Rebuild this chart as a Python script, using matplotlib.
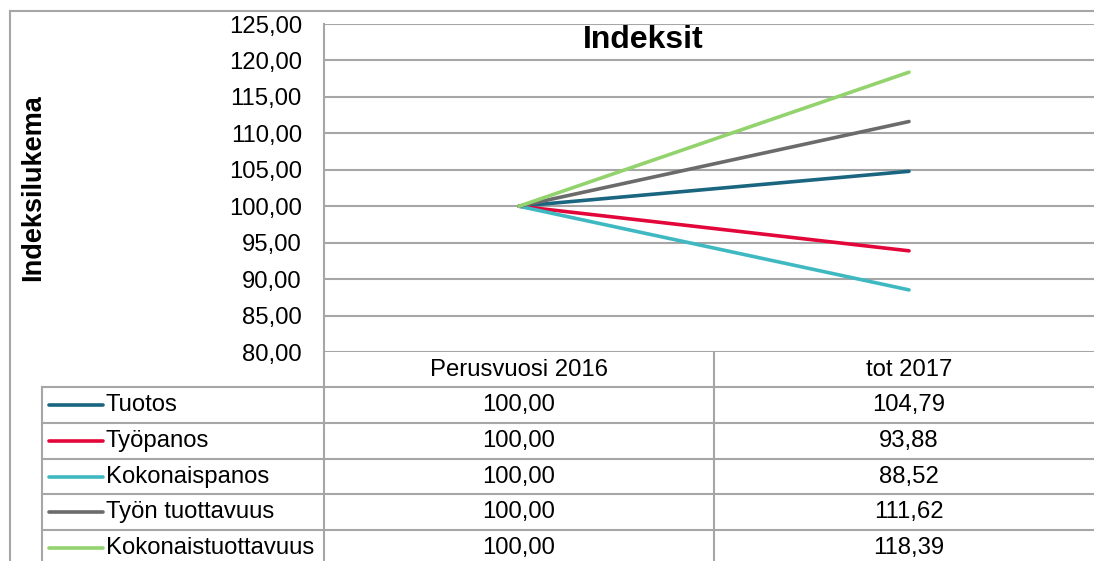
import matplotlib as mpl
from matplotlib import pyplot as plt
from matplotlib.transforms import blended_transform_factory
from matplotlib.lines import Line2D
from matplotlib.ticker import FuncFormatter

# data
categories = ['Perusvuosi 2016', 'tot 2017']
series_names = ['Tuotos', 'Työpanos', 'Kokonaispanos', 'Työn tuottavuus', 'Kokonaistuottavuus']
tuotos = [100.00, 104.79]
tyopanos = [100.00, 93.88]
kokonaispanos = [100.00, 88.52]
tyon_tuottavuus = [100.00, 111.62]
kokonaistuottavuus = [100.00, 118.39]
series_values = [tuotos, tyopanos, kokonaispanos, tyon_tuottavuus, kokonaistuottavuus]
colors = ['#1a6680', '#e3063a', '#3fb9c1', '#6b6b6b', '#92d36e']

plt.rcParams['font.family'] = ['Liberation Sans', 'DejaVu Sans']

W, H = 1094, 561
fig = plt.figure(figsize=(W / 100, H / 100), dpi=100)

def fx(px):
    return px / W

def fy(py):
    return 1 - py / H

grid_col = '#a6a6a6'
fs = 17.2

# plot area in pixels: left 324, right 1104 (beyond image), top 24, bottom 352
ax = fig.add_axes([fx(324), fy(352), fx(1104) - fx(324), fy(24) - fy(352)])
x = list(range(len(categories)))
for name, vals, c in zip(series_names, series_values, colors):
    ax.plot(x, vals, color=c, lw=2.6, solid_capstyle='round', label=name)
ax.set_xlim(-0.5, len(categories) - 0.5)
ax.set_ylim(80, 125)
ax.set_yticks(range(80, 126, 5))
ax.yaxis.set_major_formatter(FuncFormatter(lambda v, p: f'{v:.2f}'.replace('.', ',')))
ax.tick_params(axis='y', length=0, labelsize=fs, pad=16)
ax.set_xticks([])
ax.grid(axis='y', color=grid_col, lw=1.5)
ax.set_axisbelow(True)
for s in ['top', 'right', 'bottom']:
    ax.spines[s].set_visible(False)
ax.spines['left'].set_color(grid_col)
ax.spines['left'].set_linewidth(1.5)

# title and y label
fig.text(fx(643), fy(40), 'Indeksit', fontsize=23, fontweight='bold', ha='center', va='center')
fig.text(fx(33), fy(188), 'Indeksilukema', fontsize=19.5, fontweight='bold', rotation=90,
         ha='center', va='center')

# outer chart border
fig.add_artist(Line2D([fx(10), fx(10)], [fy(11), 0], color=grid_col, lw=1.5, transform=fig.transFigure))
fig.add_artist(Line2D([fx(10), 1], [fy(11), fy(11)], color=grid_col, lw=1.5, transform=fig.transFigure))

# data table below the plot
header_top, header_bot = 352, 387
row_h = 35.8
n = len(series_names)
row_edges = [header_bot + i * row_h for i in range(n + 1)]

def hline(x0, x1, y):
    fig.add_artist(Line2D([fx(x0), fx(x1)], [fy(y), fy(y)], color=grid_col, lw=1.5,
                          transform=fig.transFigure))

def vline(xp, y0, y1):
    fig.add_artist(Line2D([fx(xp), fx(xp)], [fy(y0), fy(y1)], color=grid_col, lw=1.5,
                          transform=fig.transFigure))

for y in row_edges:
    hline(42, 1104, y)
vline(42, header_bot, row_edges[-1])
vline(324, header_top, row_edges[-1])
vline(714, header_top, row_edges[-1])

blend = blended_transform_factory(ax.transData, fig.transFigure)
for i, cat in enumerate(categories):
    fig.text(i, fy((header_top + header_bot) / 2), cat, transform=blend, fontsize=fs,
             ha='center', va='center')

for r, (name, vals, c) in enumerate(zip(series_names, series_values, colors)):
    yc = (row_edges[r] + row_edges[r + 1]) / 2
    fig.add_artist(Line2D([fx(49), fx(103)], [fy(yc), fy(yc)], color=c, lw=2.6,
                          solid_capstyle='round', transform=fig.transFigure))
    fig.text(fx(106), fy(yc), name, fontsize=fs, ha='left', va='center')
    for i, v in enumerate(vals):
        fig.text(i, fy(yc), f'{v:.2f}'.replace('.', ','), transform=blend, fontsize=fs,
                 ha='center', va='center')

fig.savefig('out.png', dpi=100)
